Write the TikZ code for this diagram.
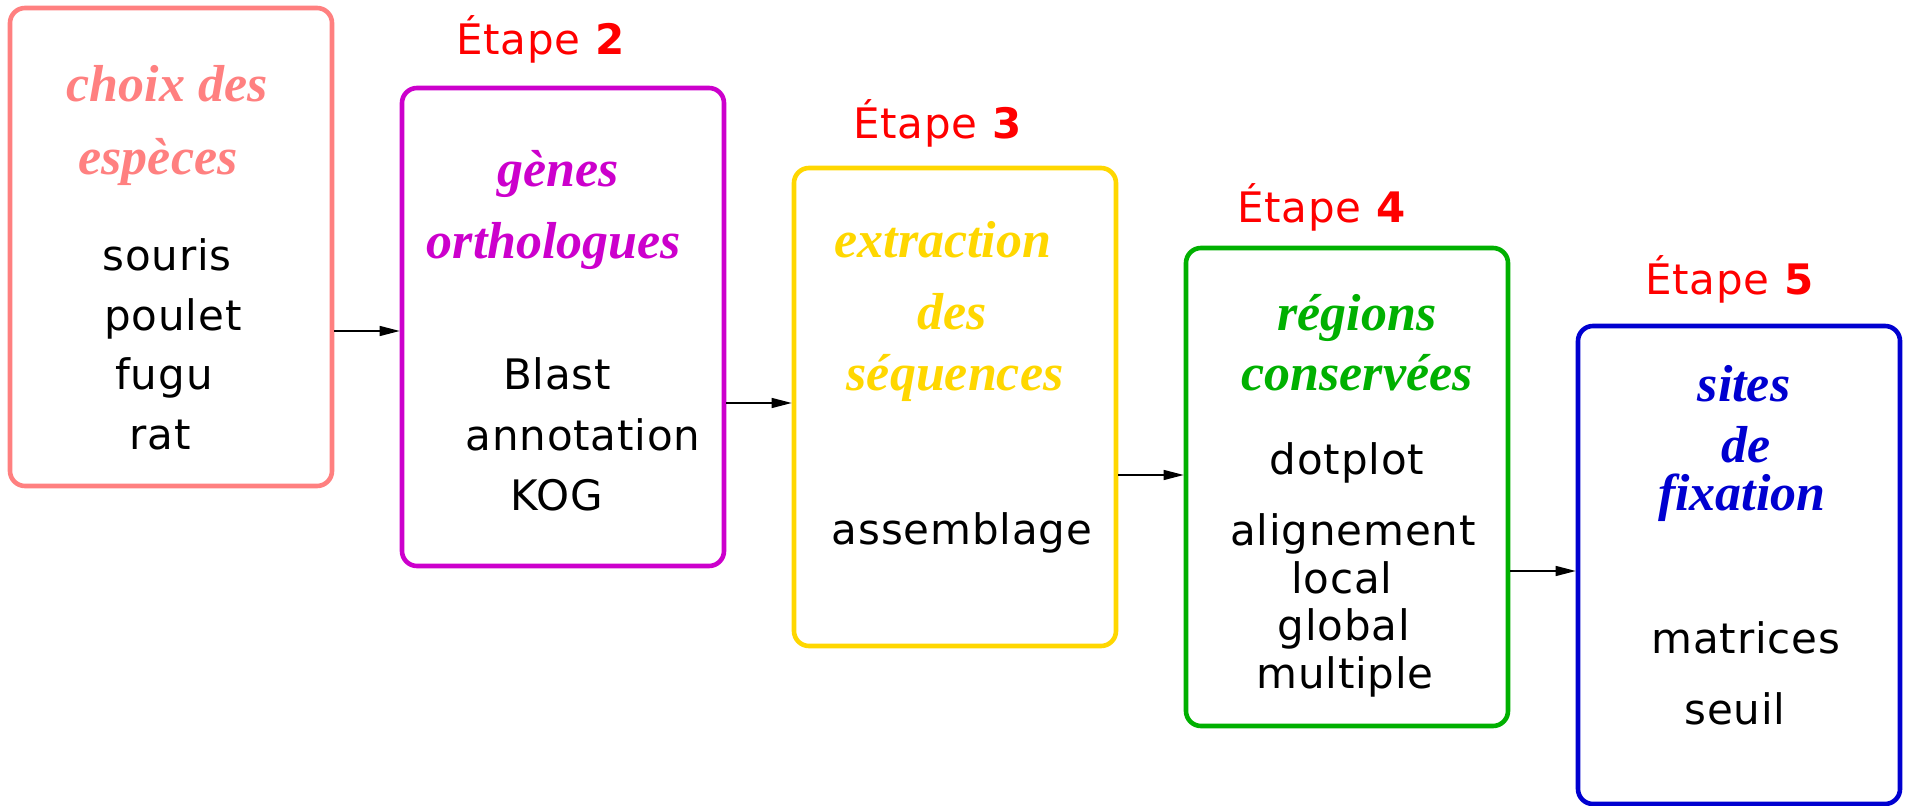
\documentclass[tikz,border=0pt]{standalone}
\usepackage{fontspec}
\setmainfont{DejaVu Sans}[LetterSpace=2]
\newfontfamily\titrefont{Liberation Serif}
\usetikzlibrary{arrows.meta}

\definecolor{rose}{HTML}{FF8080}
\definecolor{violet3}{HTML}{CC00CC}
\definecolor{or}{HTML}{FFD700}
\definecolor{vert3}{HTML}{00B000}
\definecolor{bleu3}{HTML}{0000D0}

\begin{document}
\begin{tikzpicture}[x=0.5pt,y=-0.5pt,
  etape/.style={draw,rounded corners=7.5pt,line width=2.3pt,minimum width=161pt,minimum height=239pt,inner sep=0pt},
  titre/.style={anchor=base,font=\titrefont\fontsize{26}{30}\selectfont\bfseries\itshape},
  mot/.style={anchor=base,font=\fontsize{21}{25}\selectfont},
  num/.style={anchor=base,text=red,font=\fontsize{21}{25}\selectfont},
  fleche/.style={-{Triangle[length=10pt,width=5pt]},line width=0.65pt}]
\useasboundingbox (0,0) rectangle (1908,806);

% les cinq etapes
\node[etape,draw=rose] (b1) at (171,247) {};
\node[etape,draw=violet3] (b2) at (563,327) {};
\node[etape,draw=or] (b3) at (955,407) {};
\node[etape,draw=vert3] (b4) at (1347,487) {};
\node[etape,draw=bleu3] (b5) at (1739,565) {};

% numeros
\node[num] (e2) at (541,55) {\'Etape \textbf{2}};
\node[num] (e3) at (938,139) {\'Etape \textbf{3}};
\node[num] (e4) at (1322,223) {\'Etape \textbf{4}};
\node[num] (e5) at (1730,295) {\'Etape \textbf{5}};

% etape 1
\node[titre,text=rose] (t1a) at (167,102) {choix des};
\node[titre,text=rose] (t1b) at (158,175) {esp\`eces};
\node[mot] (m1a) at (167,271) {souris};
\node[mot] (m1b) at (173,331) {poulet};
\node[mot] (m1c) at (164,390) {fugu};
\node[mot] (m1d) at (160,450) {rat};

% etape 2
\node[titre,text=violet3] (t2a) at (558,187) {g\`enes};
\node[titre,text=violet3] (t2b) at (554,259) {orthologues};
\node[mot] (m2a) at (557,390) {Blast};
\node[mot] (m2b) at (583,451) {annotation};
\node[mot] (m2c) at (557,511) {KOG};

% etape 3
\node[titre,text=or] (t3a) at (943,258) {extraction};
\node[titre,text=or] (t3b) at (952,330) {des};
\node[titre,text=or] (t3c) at (955,391) {s\'equences};
\node[mot] (m3a) at (962,545) {assemblage};

% etape 4
\node[titre,text=vert3] (t4a) at (1357,331) {r\'egions};
\node[titre,text=vert3] (t4b) at (1357,391) {conserv\'ees};
\node[mot] (m4a) at (1347,475) {dotplot};
\node[mot] (m4b) at (1353,546) {alignement};
\node[mot] (m4c) at (1342,594) {local};
\node[mot] (m4d) at (1344,641) {global};
\node[mot] (m4e) at (1345,689) {multiple};

% etape 5
\node[titre,text=bleu3] (t5a) at (1744,402) {sites};
\node[titre,text=bleu3] (t5b) at (1746,463) {de};
\node[titre,text=bleu3] (t5c) at (1742,511) {fixation};
\node[mot] (m5a) at (1746,654) {matrices};
\node[mot] (m5b) at (1735,725) {seuil};

% enchainement
\draw[fleche] (b1.east |- 0,331) -- (b2.west |- 0,331);
\draw[fleche] (b2.east |- 0,403) -- (b3.west |- 0,403);
\draw[fleche] (b3.east |- 0,475) -- (b4.west |- 0,475);
\draw[fleche] (b4.east |- 0,571) -- (b5.west |- 0,571);
\end{tikzpicture}
\end{document}
